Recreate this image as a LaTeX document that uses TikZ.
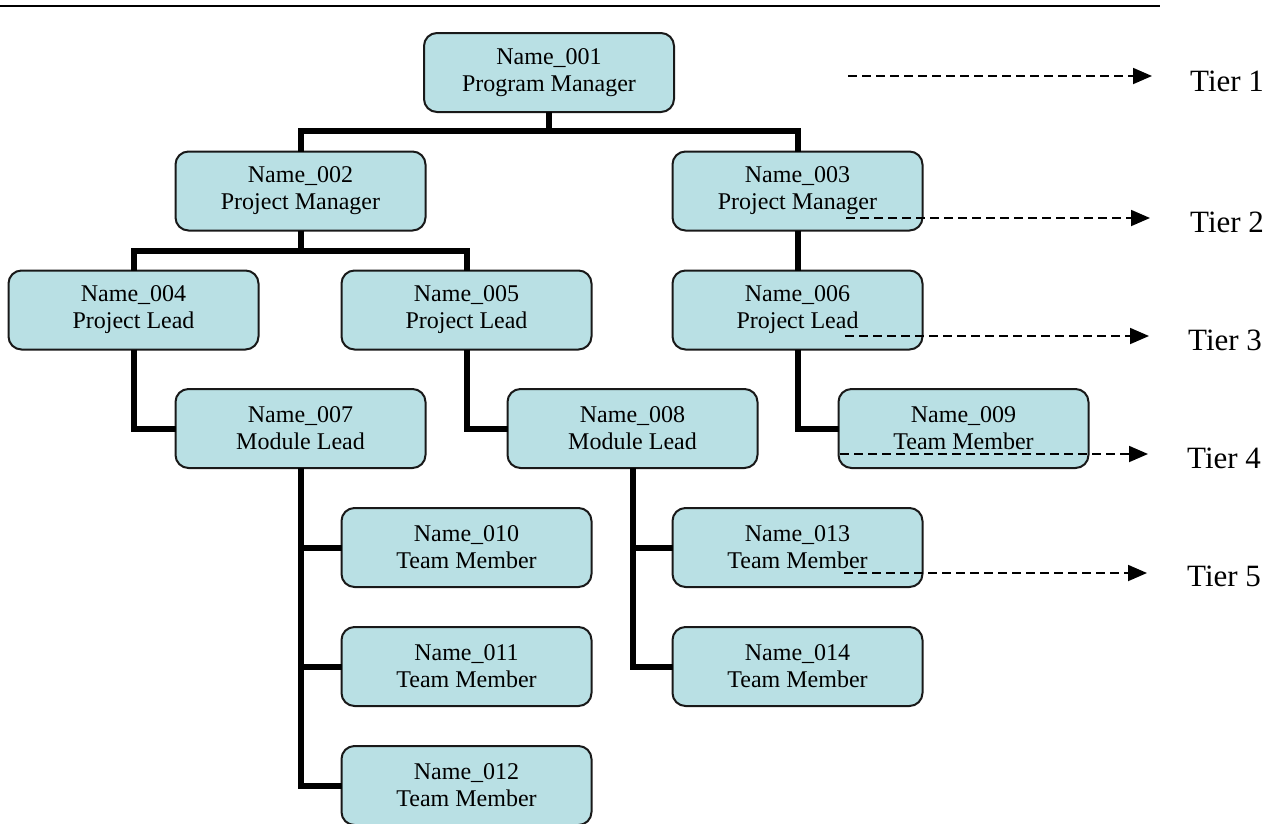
\documentclass[tikz,border=0pt]{standalone}
\usepackage{fontspec}
\setmainfont{Liberation Serif}
\usetikzlibrary{arrows.meta,calc}
\definecolor{boxfill}{RGB}{185,224,228}
\begin{document}
\begin{tikzpicture}[x=1pt,y=-1pt,
  orgbox/.style={draw=black!90,line width=2pt,fill=boxfill,rounded corners=13pt,
    minimum width=250pt,minimum height=79pt,inner sep=0pt,outer sep=0pt,align=center,
    font=\fontsize{24}{27}\selectfont},
  conn/.style={line width=6pt,line join=miter},
  tierarrow/.style={line width=1.8pt,dash pattern=on 9pt off 5pt,-{Triangle[length=19pt,width=16pt]}},
  tierlabel/.style={anchor=base west,inner sep=0pt,font=\fontsize{31}{36}\selectfont}]
\useasboundingbox (0,0) rectangle (1283,823);
\coordinate (tl) at (0,6);
\coordinate (tr) at (1160,6);
\draw[line width=2.5pt] (tl) -- (tr);
% boxes
\node[orgbox] (n1) at (549,72.5) {Name\_001\\Program Manager};
\node[orgbox] (n2) at (300.5,191) {Name\_002\\Project Manager};
\node[orgbox] (n3) at (797.5,191) {Name\_003\\Project Manager};
\node[orgbox] (n4) at (133.5,310) {Name\_004\\Project Lead};
\node[orgbox] (n5) at (466.5,310) {Name\_005\\Project Lead};
\node[orgbox] (n6) at (797.5,310) {Name\_006\\Project Lead};
\node[orgbox] (n7) at (300.5,428.5) {Name\_007\\Module Lead};
\node[orgbox] (n8) at (632.5,428.5) {Name\_008\\Module Lead};
\node[orgbox] (n9) at (963.5,428.5) {Name\_009\\Team Member};
\node[orgbox] (n10) at (466.5,547.5) {Name\_010\\Team Member};
\node[orgbox] (n11) at (466.5,666.5) {Name\_011\\Team Member};
\node[orgbox] (n12) at (466.5,785.5) {Name\_012\\Team Member};
\node[orgbox] (n13) at (797.5,547.5) {Name\_013\\Team Member};
\node[orgbox] (n14) at (797.5,666.5) {Name\_014\\Team Member};
% connectors
\coordinate (j1) at (549,131);
\coordinate (j2) at (300.5,250.5);
\draw[conn] (n1.south) -- (j1);
\draw[conn] (n2.north) |- (j1) -| (n3.north);
\draw[conn] (n2.south) -- (j2);
\draw[conn] (n4.north) |- (j2) -| (n5.north);
\draw[conn] (n3.south) -- (n6.north);
\draw[conn] (n4.south) |- (n7.west);
\draw[conn] (n5.south) |- (n8.west);
\draw[conn] (n6.south) |- (n9.west);
\draw[conn] (n7.south) |- (n12.west);
\draw[conn] (n7.south |- n10.west) -- (n10.west);
\draw[conn] (n7.south |- n11.west) -- (n11.west);
\draw[conn] (n8.south) |- (n14.west);
\draw[conn] (n8.south |- n13.west) -- (n13.west);
% tiers
\coordinate (s1) at (848,76);  \coordinate (e1) at (1152,76);
\coordinate (s2) at (846,218); \coordinate (e2) at (1150,218);
\coordinate (s3) at (845,336); \coordinate (e3) at (1149,336);
\coordinate (s4) at (840,454); \coordinate (e4) at (1148,454);
\coordinate (s5) at (844,573); \coordinate (e5) at (1147,573);
\draw[tierarrow] (s1) -- (e1);
\draw[tierarrow] (s2) -- (e2);
\draw[tierarrow] (s3) -- (e3);
\draw[tierarrow] (s4) -- (e4);
\draw[tierarrow] (s5) -- (e5);
\node[tierlabel] (t1) at (1190,91) {Tier 1};
\node[tierlabel] (t2) at (1190,232) {Tier 2};
\node[tierlabel] (t3) at (1188,350) {Tier 3};
\node[tierlabel] (t4) at (1187,468) {Tier 4};
\node[tierlabel] (t5) at (1187,586) {Tier 5};
\end{tikzpicture}
\end{document}
